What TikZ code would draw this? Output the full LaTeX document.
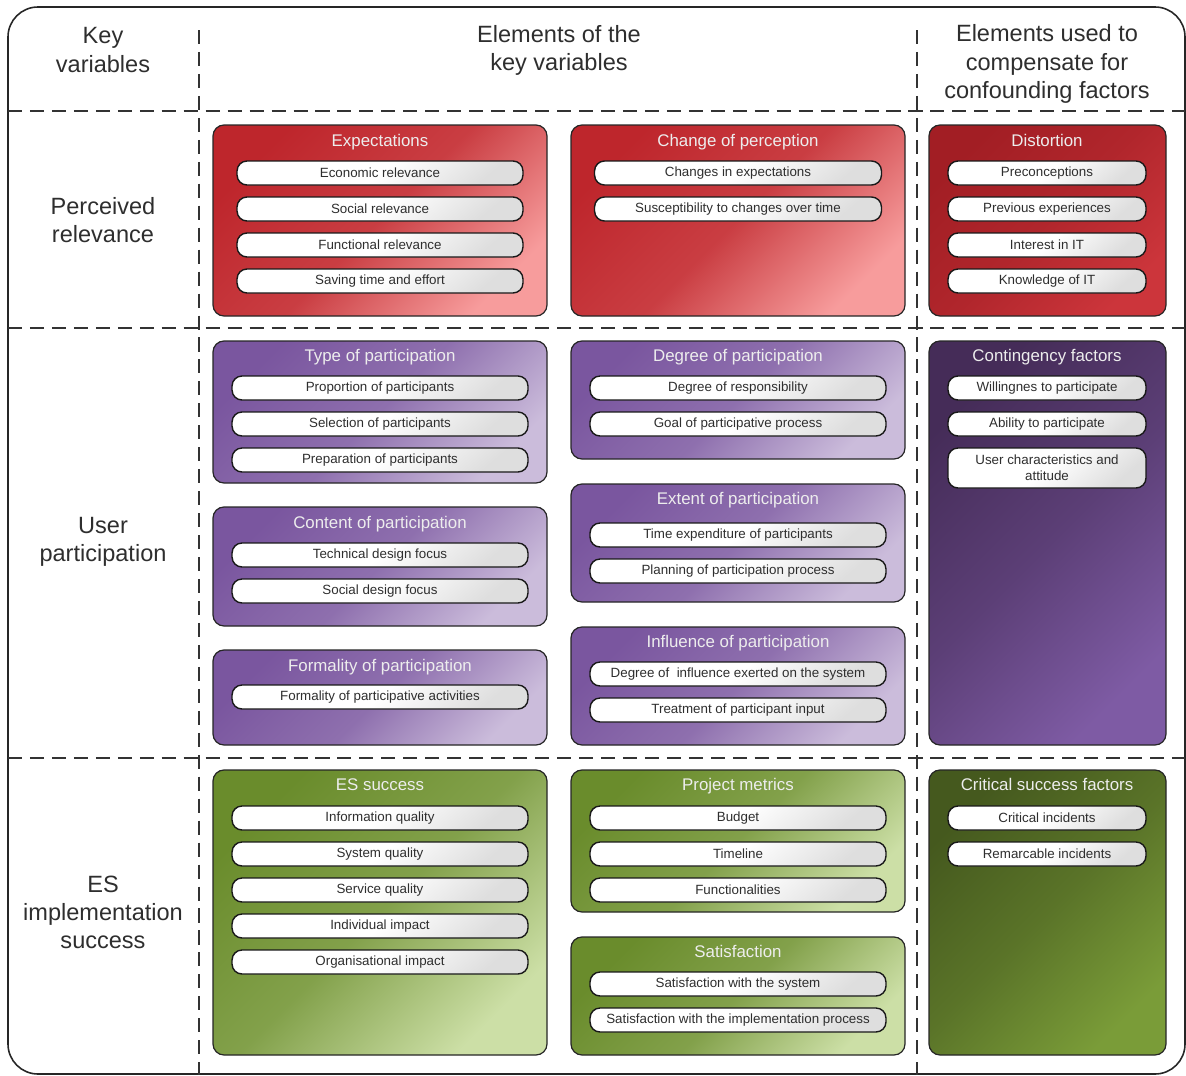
\documentclass[tikz,border=0pt]{standalone}
\usepackage{fontspec}
\setmainfont{Liberation Sans}
\usetikzlibrary{fit}

\definecolor{redA}{HTML}{BE262C}
\definecolor{redB}{HTML}{F79C9C}
\definecolor{drkredA}{HTML}{A21E24}
\definecolor{drkredB}{HTML}{CC353B}
\definecolor{purpA}{HTML}{7A569F}
\definecolor{purpB}{HTML}{CBBCDB}
\definecolor{drkpurpA}{HTML}{452C58}
\definecolor{drkpurpB}{HTML}{7E5BA4}
\definecolor{grnA}{HTML}{6A8C2C}
\definecolor{grnB}{HTML}{CCDFA6}
\definecolor{drkgrnA}{HTML}{45591E}
\definecolor{drkgrnB}{HTML}{7A9C38}

\tikzset{
    grp/.style={draw=black!85, line width=0.7pt, rounded corners=0.22cm, inner sep=0pt},
    redgrp/.style={grp, top color=redA, bottom color=redB, middle color=redA!80!redB, shading angle=45},
    drkredgrp/.style={grp, top color=drkredA, bottom color=drkredB, middle color=drkredA!65!drkredB, shading angle=45},
    purpgrp/.style={grp, top color=purpA, bottom color=purpB, middle color=purpA!75!purpB, shading angle=45},
    drkpurpgrp/.style={grp, top color=drkpurpA, bottom color=drkpurpB, middle color=drkpurpA!60!drkpurpB, shading angle=45},
    grngrp/.style={grp, top color=grnA, bottom color=grnB, middle color=grnA!75!grnB, shading angle=45},
    drkgrngrp/.style={grp, top color=drkgrnA, bottom color=drkgrnB, middle color=drkgrnA!60!drkgrnB, shading angle=45},
    grptitle/.style={text=white!93!black, font=\fontsize{9.6}{11}\selectfont, text height=1.45ex, text depth=0.4ex},
    itm/.style={draw=black!90, line width=0.8pt, rounded corners=0.2cm, top color=white, bottom color=black!13, middle color=white, shading angle=40, minimum height=0.48cm, inner sep=1.5pt, text=black!82, font=\fontsize{7.6}{9}\selectfont, align=center},
    hdr/.style={font=\fontsize{13.4}{16}\selectfont, align=center, text=black!82},
    sep/.style={dash pattern=on 8pt off 4.5pt, line width=0.8pt, black!80},
}

\begin{document}
\begin{tikzpicture}[x=0.02cm, y=-0.02cm]
    \useasboundingbox (0,0) rectangle (1186,1075);
    % frame and grid
    \draw[line width=0.9pt, black!85, rounded corners=0.6cm] (8,7) rectangle (1185,1074);
    \foreach \yy in {111,328,758}
        \draw[sep] (8,\yy) -- (1185,\yy);
    \draw[sep] (199,30) -- (199,1075);
    \draw[sep] (917,30) -- (917,1075);

    % headers
    \node[hdr] (hkey) at (103,50) {Key\\variables};
    \node[hdr] (helem) at (559,50) {Elements of the\\key variables};
    \node[hdr] (hcomp) at (1047,64) {Elements used to\\compensate for\\confounding factors};
    \node[hdr] (hperc) at (103,220) {Perceived\\relevance};
    \node[hdr] (huser) at (103,542) {User\\participation};
    \node[hdr] (hes) at (103,912) {ES\\implementation\\success};

    % perceived relevance
    \node[redgrp, fit={(213,125) (547,316)}] (expect) {};
    \node[grptitle] (expect-t) at (380,142) {Expectations};
    \foreach \txt [count=\i] in {Economic relevance, Social relevance, Functional relevance, Saving time and effort}
        \node[itm, minimum width=5.72cm] (expect-\i) at (380,137+36*\i) {\txt};

    \node[redgrp, fit={(571,125) (905,316)}] (chgperc) {};
    \node[grptitle] (chgperc-t) at (738,142) {Change of perception};
    \foreach \txt [count=\i] in {Changes in expectations, Susceptibility to changes over time}
        \node[itm, minimum width=5.74cm] (chgperc-\i) at (738,137+36*\i) {\txt};

    \node[drkredgrp, fit={(929,125) (1166,316)}] (distort) {};
    \node[grptitle] (distort-t) at (1047,142) {Distortion};
    \foreach \txt [count=\i] in {Preconceptions, Previous experiences, Interest in IT, Knowledge of IT}
        \node[itm, minimum width=3.96cm] (distort-\i) at (1047,137+36*\i) {\txt};

    % user participation
    \node[purpgrp, fit={(213,341) (547,483)}] (typpart) {};
    \node[grptitle] (typpart-t) at (380,357) {Type of participation};
    \foreach \txt [count=\i] in {Proportion of participants, Selection of participants, Preparation of participants}
        \node[itm, minimum width=5.92cm] (typpart-\i) at (380,352+36*\i) {\txt};

    \node[purpgrp, fit={(213,507) (547,626)}] (contpart) {};
    \node[grptitle] (contpart-t) at (380,524) {Content of participation};
    \foreach \txt [count=\i] in {Technical design focus, Social design focus}
        \node[itm, minimum width=5.92cm] (contpart-\i) at (380,519+36*\i) {\txt};

    \node[purpgrp, fit={(213,650) (547,745)}] (formpart) {};
    \node[grptitle] (formpart-t) at (380,667) {Formality of participation};
    \node[itm, minimum width=5.92cm] (formpart-1) at (380,697) {Formality of participative activities};

    \node[purpgrp, fit={(571,341) (905,459)}] (degpart) {};
    \node[grptitle] (degpart-t) at (738,357) {Degree of participation};
    \foreach \txt [count=\i] in {Degree of responsibility, Goal of participative process}
        \node[itm, minimum width=5.92cm] (degpart-\i) at (738,352+36*\i) {\txt};

    \node[purpgrp, fit={(571,484) (905,602)}] (extpart) {};
    \node[grptitle] (extpart-t) at (738,500) {Extent of participation};
    \foreach \txt [count=\i] in {Time expenditure of participants, Planning of participation process}
        \node[itm, minimum width=5.92cm] (extpart-\i) at (738,499+36*\i) {\txt};

    \node[purpgrp, fit={(571,627) (905,745)}] (inflpart) {};
    \node[grptitle] (inflpart-t) at (738,643) {Influence of participation};
    \foreach \txt [count=\i] in {Degree of\ \ influence exerted on the system, Treatment of participant input}
        \node[itm, minimum width=5.92cm] (inflpart-\i) at (738,638+36*\i) {\txt};

    \node[drkpurpgrp, fit={(929,341) (1166,745)}] (conting) {};
    \node[grptitle] (conting-t) at (1047,357) {Contingency factors};
    \foreach \txt [count=\i] in {Willingnes to participate, Ability to participate}
        \node[itm, minimum width=3.96cm] (conting-\i) at (1047,352+36*\i) {\txt};
    \node[itm, minimum width=3.96cm, minimum height=0.8cm] (conting-3) at (1047,468) {User characteristics and\\attitude};

    % ES implementation success
    \node[grngrp, fit={(213,770) (547,1055)}] (essucc) {};
    \node[grptitle] (essucc-t) at (380,786) {ES success};
    \foreach \txt [count=\i] in {Information quality, System quality, Service quality, Individual impact, Organisational impact}
        \node[itm, minimum width=5.92cm] (essucc-\i) at (380,782+36*\i) {\txt};

    \node[grngrp, fit={(571,770) (905,912)}] (projmet) {};
    \node[grptitle] (projmet-t) at (738,786) {Project metrics};
    \foreach \txt [count=\i] in {Budget, Timeline, Functionalities}
        \node[itm, minimum width=5.92cm] (projmet-\i) at (738,782+36*\i) {\txt};

    \node[grngrp, fit={(571,937) (905,1055)}] (satisf) {};
    \node[grptitle] (satisf-t) at (738,953) {Satisfaction};
    \foreach \txt [count=\i] in {Satisfaction with the system, Satisfaction with the implementation process}
        \node[itm, minimum width=5.92cm] (satisf-\i) at (738,948+36*\i) {\txt};

    \node[drkgrngrp, fit={(929,770) (1166,1055)}] (csf) {};
    \node[grptitle] (csf-t) at (1047,786) {Critical success factors};
    \foreach \txt [count=\i] in {Critical incidents, Remarcable incidents}
        \node[itm, minimum width=3.96cm] (csf-\i) at (1047,782+36*\i) {\txt};
\end{tikzpicture}
\end{document}
